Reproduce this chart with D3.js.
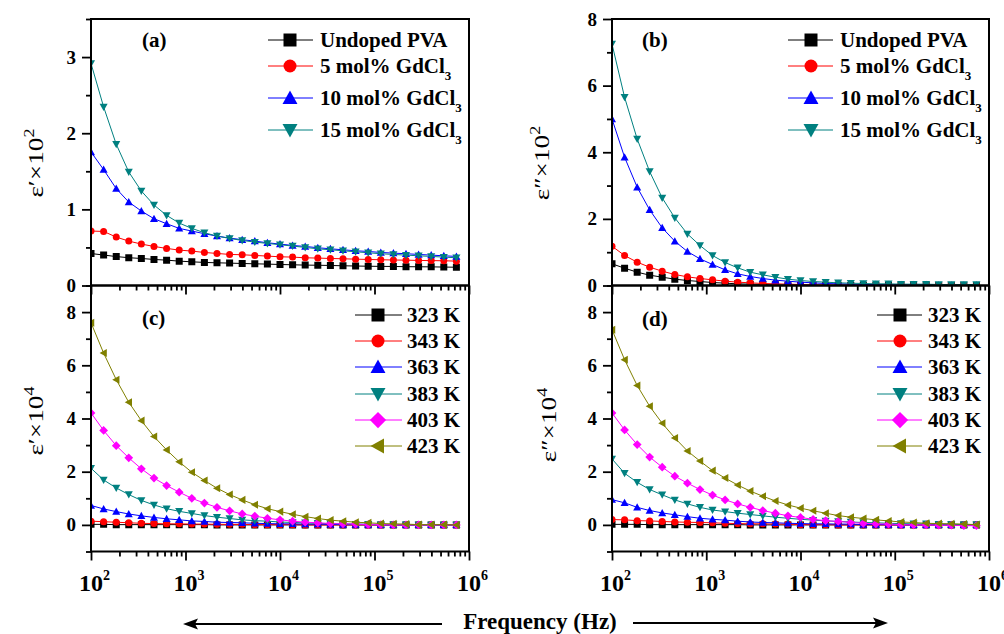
<!DOCTYPE html>
<html><head><meta charset="utf-8">
<script src="https://cdn.jsdelivr.net/npm/d3@7"></script>
<style>
html,body{margin:0;padding:0;background:#fff;}
svg{display:block;}
text{font-family:"Liberation Serif","Times New Roman",serif;}
</style></head>
<body>
<svg id="chart" width="1004" height="634"></svg>
<script>
// ---------- DATA ----------
const freq = [100,136,185,251,341,464,631,858,1166,1585,2154,2929,3981,5412,7356,10000,13594,18478,25119,34146,46416,63096,85770,116591,158489,215443,292864,398107,541170,735642];

// (a) epsilon' x10^2
const aUndoped = [0.42,0.40,0.38,0.365,0.355,0.342,0.333,0.32,0.311,0.303,0.298,0.294,0.289,0.285,0.281,0.276,0.272,0.268,0.266,0.263,0.259,0.256,0.253,0.251,0.25,0.247,0.246,0.245,0.242,0.24];
const aMol5 = [0.715,0.71,0.636,0.583,0.544,0.513,0.487,0.465,0.452,0.434,0.421,0.408,0.404,0.395,0.386,0.377,0.373,0.364,0.36,0.355,0.351,0.346,0.342,0.338,0.335,0.333,0.329,0.327,0.325,0.32];
const aMol10 = [1.754,1.522,1.272,1.096,0.978,0.877,0.811,0.75,0.715,0.68,0.649,0.623,0.601,0.583,0.561,0.544,0.526,0.513,0.496,0.482,0.469,0.456,0.447,0.434,0.425,0.417,0.408,0.399,0.39,0.382];
const aMol15 = [2.917,2.346,1.855,1.491,1.241,1.057,0.921,0.82,0.75,0.693,0.649,0.618,0.592,0.57,0.553,0.535,0.518,0.5,0.482,0.469,0.456,0.443,0.43,0.417,0.408,0.399,0.39,0.382,0.373,0.364];

// (b) epsilon'' x10^2
const bUndoped = [0.65,0.52,0.40,0.31,0.25,0.19,0.15,0.12,0.09,0.07,0.05,0.04,0.03,0.02,0.015,0.01,0.01,0.005,0.005,0,0,0,0,0,0,0,0,0,0,0];
const bMol5 = [1.18,0.9,0.7,0.55,0.43,0.33,0.26,0.21,0.17,0.13,0.1,0.08,0.06,0.05,0.04,0.03,0.02,0.015,0.01,0.01,0.005,0.005,0,0,0,0,0,0,0,0];
const bMol10 = [5.0,3.85,2.95,2.27,1.73,1.33,1.02,0.8,0.63,0.47,0.35,0.27,0.21,0.16,0.13,0.1,0.08,0.06,0.05,0.04,0.03,0.03,0.02,0.02,0.02,0.02,0.01,0.01,0.01,0.01];
const bMol15 = [7.25,5.65,4.4,3.42,2.63,2.03,1.55,1.2,0.9,0.69,0.53,0.4,0.32,0.25,0.19,0.15,0.12,0.1,0.08,0.07,0.06,0.05,0.05,0.04,0.04,0.04,0.03,0.03,0.03,0.03];

// (c) epsilon' x10^4
const c323 = [0.02,0.02,0.01,0.01,0.01,0.01,0.01,0.01,0.01,0.01,0,0,0,0,0,0,0,0,0,0,0,0,0,0,0,0,0,0,0,0];
const c343 = [0.14,0.12,0.1,0.08,0.06,0.05,0.04,0.04,0.03,0.03,0.02,0.02,0.02,0.01,0.01,0.01,0.01,0,0,0,0,0,0,0,0,0,0,0,0,0];
const c363 = [0.73,0.6,0.5,0.41,0.34,0.28,0.23,0.19,0.15,0.13,0.1,0.09,0.08,0.06,0.05,0.04,0.04,0.03,0.03,0.02,0.01,0.01,0.01,0,0,0,0,0,0,0];
const c383 = [2.13,1.69,1.39,1.14,0.92,0.75,0.61,0.51,0.43,0.35,0.29,0.24,0.19,0.16,0.14,0.11,0.09,0.08,0.06,0.05,0.04,0.03,0.03,0.01,0.01,0.01,0,0,0,0];
const c403 = [4.21,3.55,2.98,2.52,2.11,1.76,1.48,1.23,1.0,0.82,0.66,0.53,0.41,0.33,0.25,0.19,0.14,0.1,0.08,0.05,0.04,0.03,0.01,0.01,0,0,0,0,0,0];
const c423 = [7.6,6.46,5.46,4.61,3.92,3.32,2.82,2.37,1.98,1.67,1.38,1.14,0.94,0.76,0.61,0.5,0.4,0.31,0.24,0.18,0.14,0.1,0.08,0.05,0.04,0.03,0.01,0.01,0.01,0];

// (d) epsilon'' x10^4
const d323 = [0.02,0.02,0.02,0.01,0.01,0.01,0.01,0.01,0.01,0.01,0.01,0,0,0,0,0,0,0,0,0,0,0,0,0,0,0,0,0,0,0];
const d343 = [0.2,0.19,0.16,0.15,0.13,0.11,0.1,0.09,0.08,0.06,0.05,0.04,0.04,0.03,0.03,0.01,0.01,0.01,0,0,0,0,0,0,0,0,0,0,0,0];
const d363 = [0.95,0.83,0.66,0.54,0.45,0.38,0.31,0.25,0.21,0.18,0.14,0.11,0.09,0.08,0.06,0.05,0.04,0.04,0.03,0.03,0.01,0.01,0.01,0,0,0,0,0,0,0];
const d383 = [2.48,1.94,1.6,1.33,1.13,0.94,0.79,0.66,0.56,0.5,0.44,0.39,0.34,0.29,0.25,0.21,0.18,0.15,0.13,0.11,0.09,0.08,0.06,0.05,0.04,0.04,0.03,0.03,0.01,0.01];
const d403 = [4.21,3.57,3.02,2.55,2.17,1.83,1.57,1.33,1.12,0.94,0.79,0.66,0.54,0.44,0.34,0.28,0.21,0.16,0.13,0.09,0.06,0.04,0.03,0.01,0,0,-0.01,-0.01,-0.03,-0.03];
const d423 = [7.34,6.21,5.24,4.46,3.82,3.27,2.78,2.4,2.04,1.76,1.5,1.27,1.08,0.9,0.75,0.63,0.53,0.44,0.35,0.29,0.24,0.19,0.15,0.11,0.09,0.06,0.05,0.04,0.03,0.01];

const dopingNames = ["Undoped PVA", "5 mol% GdCl", "10 mol% GdCl", "15 mol% GdCl"];
const dopingSubs = ["", "3", "3", "3"];
const tempNames = ["323 K", "343 K", "363 K", "383 K", "403 K", "423 K"];
const xMajorTicks = [1e2, 1e3, 1e4, 1e5, 1e6];
const xTickExponents = ["2", "3", "4", "5", "6"];
const yTicksTop = [[0,1,2,3],[0,2,4,6,8]];
const yTicksBottom = [0,2,4,6,8];

// ---------- STYLE / LAYOUT ----------
const dopColors = ["#000000", "#ff0000", "#0000ff", "#008080"];
const dopShapes = ["square", "circle", "up", "down"];
const tempColors = ["#000000", "#ff0000", "#0000ff", "#008080", "#ff00ff", "#808000"];
const tempShapes = ["square", "circle", "up", "down", "diamond", "left"];

const panels = [
  {tag:"(a)", x0:91, x1:469, y0:19, y1:285.5, ydom:[0,3.5], major:yTicksTop[0], minor:[0.5,1.5,2.5,3.5],
   series:[aUndoped,aMol5,aMol10,aMol15], names:dopingNames, subs:dopingSubs, colors:dopColors, shapes:dopShapes,
   labels:false, ylab:"ε′×10", ysup:"2", ylx:43, yly:163,
   leg:{lx0:268, lx1:313, mx:290, tx:320, rows:[40,66,98,130]}, tagx:142, tagy:47},
  {tag:"(b)", x0:612, x1:989, y0:19, y1:285.5, ydom:[0,8], major:yTicksTop[1], minor:[1,3,5,7],
   series:[bUndoped,bMol5,bMol10,bMol15], names:dopingNames, subs:dopingSubs, colors:dopColors, shapes:dopShapes,
   labels:false, ylab:"ε″×10", ysup:"2", ylx:549, yly:163,
   leg:{lx0:788, lx1:833, mx:811, tx:840, rows:[40,66,98,130]}, tagx:642, tagy:47},
  {tag:"(c)", x0:91, x1:469, y0:285.5, y1:551.5, ydom:[-1,9], major:yTicksBottom, minor:[-1,1,3,5,7,9],
   series:[c323,c343,c363,c383,c403,c423], names:tempNames, subs:null, colors:tempColors, shapes:tempShapes,
   labels:true, ylab:"ε′×10", ysup:"4", ylx:43, yly:421,
   leg:{lx0:355, lx1:402, mx:378, tx:407, rows:[315,341,367,394,420,446]}, tagx:142, tagy:325},
  {tag:"(d)", x0:612, x1:989, y0:285.5, y1:551.5, ydom:[-1,9], major:yTicksBottom, minor:[-1,1,3,5,7,9],
   series:[d323,d343,d363,d383,d403,d423], names:tempNames, subs:null, colors:tempColors, shapes:tempShapes,
   labels:true, ylab:"ε″×10", ysup:"4", ylx:556, yly:425,
   leg:{lx0:877, lx1:922, mx:900, tx:928, rows:[315,341,367,394,420,446]}, tagx:642, tagy:326}
];

function markerPath(shape, s) {
  const h = s/2;
  switch(shape) {
    case "square": return `M${-h},${-h}H${h}V${h}H${-h}Z`;
    case "circle": return `M${h},0A${h},${h} 0 1,1 ${-h},0A${h},${h} 0 1,1 ${h},0Z`;
    case "up": { const k=h*1.15; return `M0,${-k}L${k},${k*0.8}L${-k},${k*0.8}Z`; }
    case "down": { const k=h*1.15; return `M0,${k}L${k},${-k*0.8}L${-k},${-k*0.8}Z`; }
    case "diamond": { const k=h*1.25; return `M0,${-k}L${k},0L0,${k}L${-k},0Z`; }
    case "left": { const k=h*1.15; return `M${-k},0L${k*0.8},${-k}L${k*0.8},${k}Z`; }
  }
}

const svg = d3.select("#chart");
const minorX = [];
for (let e = 2; e < 6; e++) for (let m = 2; m <= 9; m++) minorX.push(m * Math.pow(10, e));

panels.forEach((p, pi) => {
  const x = d3.scaleLog().domain([1e2, 1e6]).range([p.x0, p.x1]);
  const y = d3.scaleLinear().domain(p.ydom).range([p.y1, p.y0]);
  const g = svg.append("g");

  // series
  const clipId = "clip" + pi;
  svg.append("clipPath").attr("id", clipId).append("rect")
    .attr("x", p.x0).attr("y", p.y0).attr("width", p.x1 - p.x0).attr("height", p.y1 - p.y0);
  const plot = g.append("g").attr("clip-path", `url(#${clipId})`);
  const line = d3.line().x((d,i) => x(freq[i])).y(d => y(d));
  p.series.forEach((vals, si) => {
    plot.append("path").attr("d", line(vals)).attr("fill", "none")
      .attr("stroke", p.colors[si]).attr("stroke-width", 1);
    plot.selectAll(null).data(vals).enter().append("path")
      .attr("transform", (d,i) => `translate(${x(freq[i])},${y(d)})`)
      .attr("d", markerPath(p.shapes[si], 7))
      .attr("fill", p.colors[si]);
  });

  // axes
  const axL = d3.axisLeft(y).tickValues(p.major).tickSize(9).tickSizeOuter(0).tickPadding(5)
    .tickFormat(d3.format("d"));
  const gl = g.append("g").attr("transform", `translate(${p.x0},0)`).call(axL);
  const axLm = d3.axisLeft(y).tickValues(p.minor).tickSize(5).tickSizeOuter(0).tickFormat("");
  const glm = g.append("g").attr("transform", `translate(${p.x0},0)`).call(axLm);
  const axB = d3.axisBottom(x).tickValues(xMajorTicks).tickSize(9).tickSizeOuter(0).tickFormat("");
  const gb = g.append("g").attr("transform", `translate(0,${p.y1})`).call(axB);
  const axBm = d3.axisBottom(x).tickValues(minorX).tickSize(5).tickSizeOuter(0).tickFormat("");
  const gbm = g.append("g").attr("transform", `translate(0,${p.y1})`).call(axBm);
  [gl, glm, gb, gbm].forEach(a => {
    a.select(".domain").remove();
    a.selectAll(".tick line").attr("stroke", "#000").attr("stroke-width", 1.8);
  });
  gl.selectAll(".tick text")
    .attr("font-family", "Liberation Serif").attr("font-weight", "bold").attr("font-size", 19)
    .attr("fill", "#000").attr("x", -15);

  if (p.labels) {
    gb.selectAll(".tick").each(function(d, i) {
      const t = d3.select(this).append("text")
        .attr("x", -12.5).attr("y", 39).attr("text-anchor", "start")
        .attr("font-weight", "bold").attr("font-size", 24).attr("fill", "#000");
      t.append("tspan").text("10");
      t.append("tspan").attr("dy", -11).attr("font-size", 14).text(xTickExponents[i]);
    });
  }

  // frame
  g.append("rect").attr("x", p.x0).attr("y", p.y0).attr("width", p.x1 - p.x0).attr("height", p.y1 - p.y0)
    .attr("fill", "none").attr("stroke", "#000").attr("stroke-width", 2);

  // panel tag
  g.append("text").attr("x", p.tagx).attr("y", p.tagy).attr("font-weight", "bold")
    .attr("font-size", 21).text(p.tag);

  // y label
  const yl = g.append("text")
    .attr("transform", `translate(${p.ylx},${p.yly}) rotate(-90) scale(1.3,1)`)
    .attr("text-anchor", "middle").attr("font-size", 21).attr("fill", "#000");
  yl.append("tspan").text(p.ylab);
  yl.append("tspan").attr("dy", -9).attr("font-size", 14).text(p.ysup);

  // legend
  const L = p.leg;
  p.names.forEach((nm, si) => {
    const ry = L.rows[si];
    g.append("line").attr("x1", L.lx0).attr("x2", L.lx1).attr("y1", ry).attr("y2", ry)
      .attr("stroke", p.colors[si]).attr("stroke-width", 1);
    g.append("path").attr("transform", `translate(${L.mx},${ry})`)
      .attr("d", markerPath(p.shapes[si], 13)).attr("fill", p.colors[si]);
    const t = g.append("text").attr("x", L.tx).attr("y", ry + 7)
      .attr("font-weight", "bold").attr("font-size", 21).attr("fill", "#000");
    t.append("tspan").text(nm);
    if (p.subs && p.subs[si]) t.append("tspan").attr("dy", 7).attr("font-size", 13).text(p.subs[si]);
  });
});

// x-axis title and arrows
svg.append("text").attr("x", 540).attr("y", 629).attr("text-anchor", "middle")
  .attr("font-weight", "bold").attr("font-size", 23).text("Frequency (Hz)");
svg.append("line").attr("x1", 442).attr("x2", 192).attr("y1", 624).attr("y2", 624)
  .attr("stroke", "#000").attr("stroke-width", 2);
svg.append("path").attr("d", "M183,624L198,618.5L195,624L198,629.5Z").attr("fill", "#000");
svg.append("line").attr("x1", 633).attr("x2", 879).attr("y1", 623).attr("y2", 623)
  .attr("stroke", "#000").attr("stroke-width", 2);
svg.append("path").attr("d", "M888,623L873,617.5L876,623L873,628.5Z").attr("fill", "#000");
</script>
</body></html>
